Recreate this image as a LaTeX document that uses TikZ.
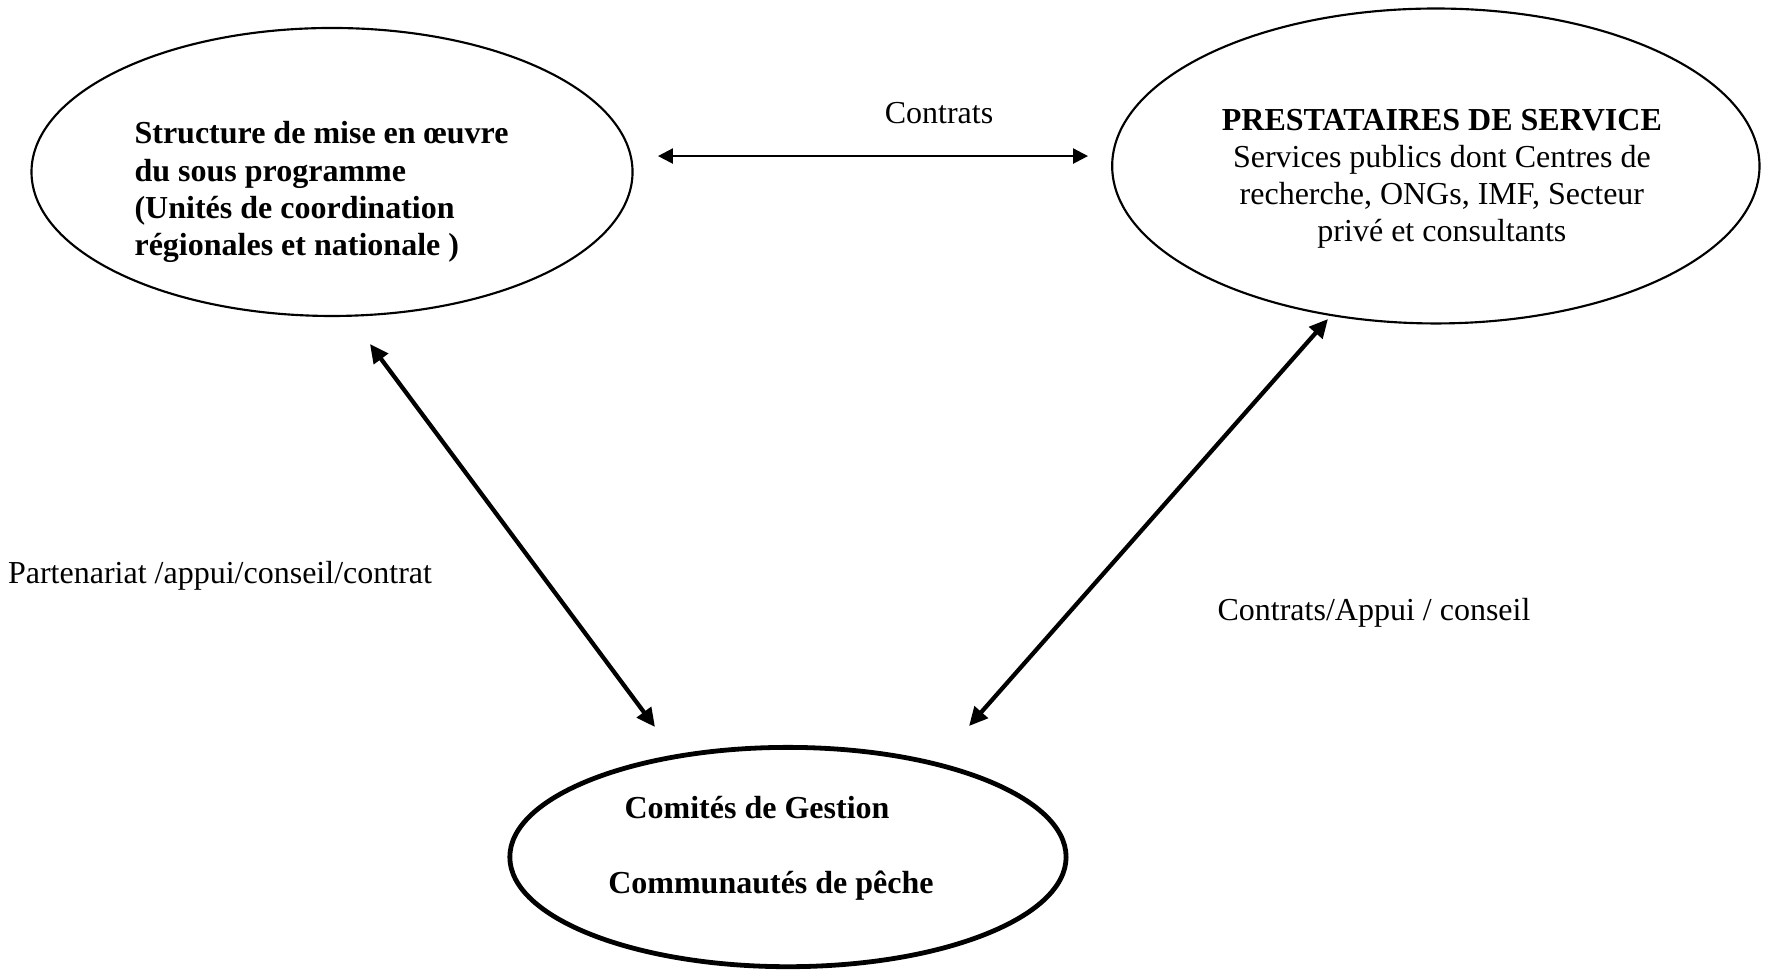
\documentclass[tikz,border=0pt]{standalone}
\usepackage{fontspec}
\setmainfont{Liberation Serif}
\usetikzlibrary{shapes.geometric,arrows.meta}

\begin{document}
\begin{tikzpicture}[y=-1cm,
    every node/.style={font=\fontsize{12}{13.9}\selectfont,inner sep=0pt},
    bulle/.style={ellipse,draw,line width=.8pt},
    fleche/.style={{Triangle[length=7pt,width=6.5pt]}-{Triangle[length=7pt,width=6.5pt]},line width=1.6pt}]
  \useasboundingbox (0,0) rectangle (23.534,12.769);
  % ellipses
  \node[bulle,minimum width=7.92cm,minimum height=3.795cm] (smo) at (4.375,2.266) {};
  \node[bulle,minimum width=8.53cm,minimum height=4.15cm] (prest) at (18.92,2.187) {};
  \node[bulle,line width=1.8pt,minimum width=7.33cm,minimum height=2.89cm] (comite) at (10.383,11.293) {};
  % textes
  \node[anchor=west,align=left,font=\fontsize{12}{13.9}\selectfont\bfseries] (smo-txt) at (1.766,2.53)
    {Structure de mise en œuvre\\du sous programme\\(Unités de coordination\\régionales et nationale )};
  \node[align=center] (prest-txt) at (19.0,2.36)
    {\textbf{PRESTATAIRES DE SERVICE}\\Services publics dont Centres de\\recherche, ONGs, IMF, Secteur\\privé et consultants};
  \node[font=\fontsize{12}{13.9}\selectfont\bfseries] (comite-txt) at (9.975,10.64) {Comités de Gestion};
  \node[font=\fontsize{12}{13.9}\selectfont\bfseries] (peche-txt) at (10.159,11.67) {Communautés de pêche};
  % etiquettes
  \node (contrats) at (12.373,1.489) {Contrats};
  \node (partenariat) at (2.899,7.59) {Partenariat /appui/conseil/contrat};
  \node (appui) at (18.105,8.08) {Contrats/Appui / conseil};
  % bouts des fleches
  \coordinate (a1) at (8.670,2.056);
  \coordinate (a2) at (14.337,2.056);
  \coordinate (b1) at (4.875,4.533);
  \coordinate (b2) at (8.631,9.580);
  \coordinate (c1) at (17.499,4.203);
  \coordinate (c2) at (12.769,9.567);
  \path[fleche,line width=.9pt,{Triangle[length=5.6pt,width=5.6pt]}-{Triangle[length=5.6pt,width=5.6pt]}]
    (a1) edge (a2);
  \path[fleche]
    (b1) edge (b2)
    (c1) edge (c2);
\end{tikzpicture}
\end{document}
